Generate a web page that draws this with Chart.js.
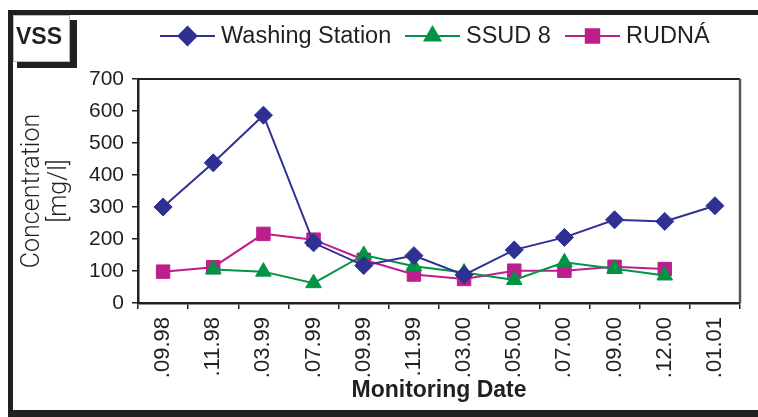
<!DOCTYPE html>
<html>
<head>
<meta charset="utf-8">
<script src="https://cdn.jsdelivr.net/npm/chart.js@4.4.0/dist/chart.umd.min.js"></script>
<style>
  html, body { margin: 0; padding: 0; background: #fff; }
  #wrap { width: 758px; height: 417px; position: relative; }
</style>
</head>
<body>
<div id="wrap"><canvas id="vssChart" width="758" height="417"></canvas></div>
<script>
const tanggal = ['.09.98', '.11.98', '.03.99', '.07.99', '.09.99', '.11.99', '.03.00', '.05.00', '.07.00', '.09.00', '.12.00', '.01.01'];
const washingStation = [300, 438, 587, 188, 117, 148, 88, 166, 205, 260, 255, 304];
const ssud8 = [null, 105, 98, 62, 150, 115, 95, 72, 127, 107, 86, null];
const rudna = [98, 112, 216, 198, 135, 89, 75, 101, 101, 113, 106, null];
const yTicks = [0, 100, 200, 300, 400, 500, 600, 700];

const FONT = "'Liberation Sans', Arial, Helvetica, sans-serif";
const FONT_LIGHT = "Roboto, 'Liberation Sans', Arial, sans-serif";

// bingkai luar, kotak VSS, legenda garis+marker
const dekorasi = {
  id: 'dekorasi',
  beforeDraw(chart) {
    const c = chart.ctx;
    c.save();
    c.fillStyle = '#fff';
    c.fillRect(0, 0, chart.width, chart.height);
    c.restore();
  },
  afterDraw(chart) {
    const c = chart.ctx;
    const a = chart.chartArea;
    c.save();
    // frame
    c.fillStyle = '#231f20';
    c.fillRect(8, 10, 750, 5);
    c.fillRect(8, 10, 5, 407);
    c.fillRect(8, 410, 750, 7);

    // kotak VSS
    c.fillRect(17, 62, 60, 6);
    c.fillRect(70, 20, 7, 48);
    c.fillStyle = '#fff';
    c.fillRect(13, 15, 57, 47);
    c.strokeStyle = '#bbb';
    c.lineWidth = 1;
    c.strokeRect(13.5, 15.5, 56, 46);
    c.fillStyle = '#231f20';
    c.font = 'bold 23px ' + FONT;
    c.textBaseline = 'middle';
    c.textAlign = 'left';
    c.fillText('VSS', 16, 38);

    // plot frame top/right
    c.strokeStyle = '#231f20';
    c.lineWidth = 2;
    c.beginPath();
    c.moveTo(a.left, a.top);
    c.lineTo(a.right, a.top);
    c.stroke();
    c.strokeStyle = '#555';
    c.lineWidth = 2.5;
    c.beginPath();
    c.moveTo(a.right, a.top);
    c.lineTo(a.right, a.bottom);
    c.stroke();

    // legenda
    const items = [
      { ds: 0, x: 160 },
      { ds: 1, x: 405 },
      { ds: 2, x: 565 }
    ];
    const ly = 36;
    c.font = '23.5px ' + FONT;
    c.textBaseline = 'middle';
    items.forEach(it => {
      const ds = chart.data.datasets[it.ds];
      c.strokeStyle = ds.borderColor;
      c.fillStyle = ds.borderColor;
      c.lineWidth = 2;
      c.beginPath();
      c.moveTo(it.x, ly);
      c.lineTo(it.x + 55, ly);
      c.stroke();
      Chart.helpers.drawPoint(c, {
        pointStyle: ds.pointStyle,
        radius: ds.pointRadius,
        borderWidth: 1
      }, it.x + 27.5, ly);
      c.fillStyle = '#231f20';
      c.fillText(ds.label, it.x + 61, ly + 1);
    });
    c.restore();
  }
};

function setPointColors(ds) {
  ds.pointBackgroundColor = ds.borderColor;
  ds.pointBorderColor = ds.borderColor;
  return ds;
}

const ctx = document.getElementById('vssChart').getContext('2d');

new Chart(ctx, {
  type: 'line',
  data: {
    labels: tanggal,
    datasets: [
      setPointColors({
        label: 'Washing Station',
        data: washingStation,
        borderColor: '#2e3192',
        borderWidth: 2,
        pointStyle: 'rectRot',
        pointRadius: 9,
        pointBorderWidth: 1
      }),
      setPointColors({
        label: 'SSUD 8',
        data: ssud8,
        borderColor: '#009444',
        borderWidth: 2,
        pointStyle: 'triangle',
        pointRadius: 9,
        pointBorderWidth: 1
      }),
      setPointColors({
        label: 'RUDNÁ',
        data: rudna,
        borderColor: '#be1e8c',
        borderWidth: 2,
        pointStyle: 'rect',
        pointRadius: 9.5,
        pointBorderWidth: 1
      })
    ]
  },
  options: {
    responsive: false,
    animation: false,
    layout: { padding: { left: 20, top: 79, right: 18, bottom: 13 } },
    plugins: {
      legend: { display: false },
      tooltip: { enabled: false }
    },
    scales: {
      x: {
        offset: true,
        grid: {
          offset: true,
          drawOnChartArea: false,
          color: '#231f20',
          tickLength: 6,
          lineWidth: 1.5
        },
        border: { color: '#231f20', width: 2.5 },
        ticks: {
          color: '#231f20',
          font: { family: FONT, size: 22 },
          maxRotation: 90,
          minRotation: 90,
          padding: 8,
          autoSkip: false
        },
        title: {
          display: true,
          text: 'Monitoring Date',
          color: '#231f20',
          font: { family: FONT, size: 23, weight: 'bold' },
          padding: { top: 0, bottom: 0 }
        },
        afterFit: s => { s.height = 101; }
      },
      y: {
        min: 0,
        max: 700,
        afterBuildTicks: s => { s.ticks = yTicks.map(v => ({ value: v })); },
        grid: {
          drawOnChartArea: false,
          color: '#231f20',
          tickLength: 6,
          lineWidth: 1.5
        },
        border: { color: '#231f20', width: 2.5 },
        ticks: {
          color: '#231f20',
          font: { family: FONT, size: 21 },
          padding: 8
        },
        title: {
          display: true,
          text: ['Concentration', '[mg/l]'],
          color: '#231f20',
          font: { family: FONT_LIGHT, size: 25, weight: '300', lineHeight: 1.05 },
          padding: { top: 0, bottom: 0 }
        },
        afterFit: s => { s.width = 118; }
      }
    }
  },
  plugins: [dekorasi]
});
</script>
</body>
</html>
